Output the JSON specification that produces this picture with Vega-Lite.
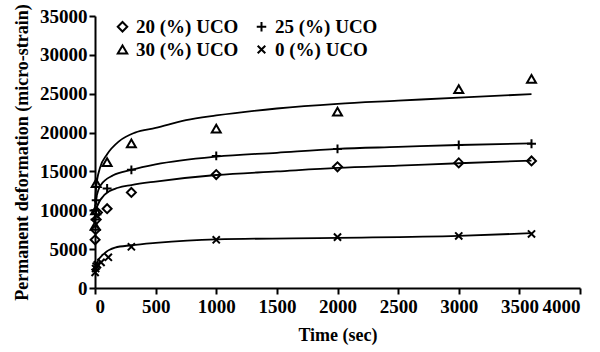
{
  "$schema": "https://vega.github.io/schema/vega-lite/v6.json",
  "width": 485,
  "height": 272,
  "autosize": {"type": "none"},
  "padding": {"left": 95, "top": 16, "right": 20, "bottom": 64},
  "background": "white",
  "datasets": {
    "pts": [
      {"t": 1, "v": 6200, "s": "20 (%) UCO"},
      {"t": 5, "v": 7500, "s": "20 (%) UCO"},
      {"t": 10, "v": 8800, "s": "20 (%) UCO"},
      {"t": 20, "v": 9700, "s": "20 (%) UCO"},
      {"t": 100, "v": 10200, "s": "20 (%) UCO"},
      {"t": 300, "v": 12300, "s": "20 (%) UCO"},
      {"t": 1000, "v": 14600, "s": "20 (%) UCO"},
      {"t": 2000, "v": 15600, "s": "20 (%) UCO"},
      {"t": 3000, "v": 16100, "s": "20 (%) UCO"},
      {"t": 3600, "v": 16350, "s": "20 (%) UCO"},
      {"t": 1, "v": 8800, "s": "25 (%) UCO"},
      {"t": 5, "v": 10000, "s": "25 (%) UCO"},
      {"t": 10, "v": 11300, "s": "25 (%) UCO"},
      {"t": 100, "v": 12800, "s": "25 (%) UCO"},
      {"t": 300, "v": 15200, "s": "25 (%) UCO"},
      {"t": 1000, "v": 17000, "s": "25 (%) UCO"},
      {"t": 2000, "v": 17900, "s": "25 (%) UCO"},
      {"t": 3000, "v": 18400, "s": "25 (%) UCO"},
      {"t": 3600, "v": 18550, "s": "25 (%) UCO"},
      {"t": 1, "v": 8000, "s": "30 (%) UCO"},
      {"t": 5, "v": 10000, "s": "30 (%) UCO"},
      {"t": 10, "v": 13500, "s": "30 (%) UCO"},
      {"t": 100, "v": 16200, "s": "30 (%) UCO"},
      {"t": 300, "v": 18600, "s": "30 (%) UCO"},
      {"t": 1000, "v": 20500, "s": "30 (%) UCO"},
      {"t": 2000, "v": 22700, "s": "30 (%) UCO"},
      {"t": 3000, "v": 25600, "s": "30 (%) UCO"},
      {"t": 3600, "v": 26900, "s": "30 (%) UCO"},
      {"t": 1, "v": 2000, "s": "0 (%) UCO"},
      {"t": 5, "v": 2500, "s": "0 (%) UCO"},
      {"t": 10, "v": 2800, "s": "0 (%) UCO"},
      {"t": 20, "v": 3000, "s": "0 (%) UCO"},
      {"t": 50, "v": 3300, "s": "0 (%) UCO"},
      {"t": 110, "v": 3950, "s": "0 (%) UCO"},
      {"t": 300, "v": 5300, "s": "0 (%) UCO"},
      {"t": 1000, "v": 6200, "s": "0 (%) UCO"},
      {"t": 2000, "v": 6550, "s": "0 (%) UCO"},
      {"t": 3000, "v": 6700, "s": "0 (%) UCO"},
      {"t": 3600, "v": 6950, "s": "0 (%) UCO"}
    ],
    "fit": [
      {"t": 0, "v": 11000, "s": "30"},
      {"t": 10, "v": 13000, "s": "30"},
      {"t": 40, "v": 15400, "s": "30"},
      {"t": 100, "v": 17200, "s": "30"},
      {"t": 200, "v": 18900, "s": "30"},
      {"t": 330, "v": 20000, "s": "30"},
      {"t": 500, "v": 20600, "s": "30"},
      {"t": 750, "v": 21600, "s": "30"},
      {"t": 1000, "v": 22200, "s": "30"},
      {"t": 1500, "v": 23100, "s": "30"},
      {"t": 2000, "v": 23700, "s": "30"},
      {"t": 2500, "v": 24100, "s": "30"},
      {"t": 3000, "v": 24500, "s": "30"},
      {"t": 3600, "v": 24950, "s": "30"},
      {"t": 0, "v": 10500, "s": "25"},
      {"t": 10, "v": 11500, "s": "25"},
      {"t": 50, "v": 13300, "s": "25"},
      {"t": 150, "v": 14500, "s": "25"},
      {"t": 300, "v": 15200, "s": "25"},
      {"t": 500, "v": 15900, "s": "25"},
      {"t": 1000, "v": 16900, "s": "25"},
      {"t": 1500, "v": 17400, "s": "25"},
      {"t": 2000, "v": 17900, "s": "25"},
      {"t": 2500, "v": 18150, "s": "25"},
      {"t": 3000, "v": 18400, "s": "25"},
      {"t": 3600, "v": 18600, "s": "25"},
      {"t": 0, "v": 8500, "s": "20"},
      {"t": 15, "v": 10400, "s": "20"},
      {"t": 80, "v": 12000, "s": "20"},
      {"t": 190, "v": 12900, "s": "20"},
      {"t": 300, "v": 13250, "s": "20"},
      {"t": 500, "v": 13700, "s": "20"},
      {"t": 1000, "v": 14540, "s": "20"},
      {"t": 1500, "v": 15000, "s": "20"},
      {"t": 2000, "v": 15450, "s": "20"},
      {"t": 2500, "v": 15750, "s": "20"},
      {"t": 3000, "v": 16050, "s": "20"},
      {"t": 3600, "v": 16400, "s": "20"},
      {"t": 0, "v": 2000, "s": "0"},
      {"t": 15, "v": 3200, "s": "0"},
      {"t": 80, "v": 4500, "s": "0"},
      {"t": 165, "v": 5200, "s": "0"},
      {"t": 300, "v": 5500, "s": "0"},
      {"t": 500, "v": 5800, "s": "0"},
      {"t": 1000, "v": 6250, "s": "0"},
      {"t": 2000, "v": 6450, "s": "0"},
      {"t": 3000, "v": 6700, "s": "0"},
      {"t": 3600, "v": 7050, "s": "0"}
    ]
  },
  "config": {
    "view": {"stroke": null},
    "axis": {
      "grid": false,
      "domainColor": "black",
      "domainWidth": 2,
      "tickColor": "black",
      "tickWidth": 2,
      "tickSize": 6,
      "labelColor": "black",
      "labelFont": "Liberation Serif",
      "labelFontWeight": "bold",
      "labelFontSize": 19,
      "labelOverlap": false,
      "titleColor": "black",
      "titleFont": "Liberation Serif",
      "titleFontWeight": "bold",
      "titleFontSize": 18
    },
    "legend": {
      "labelFont": "Liberation Serif",
      "labelFontWeight": "bold",
      "labelFontSize": 19,
      "labelColor": "black"
    }
  },
  "encoding": {
    "x": {
      "field": "t", "type": "quantitative",
      "scale": {"domain": [0, 4000], "nice": false},
      "axis": {"values": [0, 500, 1000, 1500, 2000, 2500, 3000, 3500, 4000], "format": "d", "labelPadding": 3, "labelOverlap": false, "title": "Time (sec)", "titlePadding": 10}
    },
    "y": {
      "field": "v", "type": "quantitative",
      "scale": {"domain": [0, 35000], "nice": false},
      "axis": {"values": [0, 5000, 10000, 15000, 20000, 25000, 30000, 35000], "format": "d", "labelPadding": 2, "labelOverlap": false, "title": "Permanent deformation (micro-strain)", "titlePadding": 8}
    }
  },
  "layer": [
    {
      "data": {"name": "fit"},
      "mark": {"type": "line", "color": "black", "strokeWidth": 1.8, "interpolate": "monotone"},
      "encoding": {
        "detail": {"field": "s"}
      }
    },
    {
      "data": {"name": "pts"},
      "mark": {"type": "point", "filled": false, "color": "black", "strokeWidth": 2, "opacity": 1, "size": 80},
      "encoding": {
        "shape": {
          "field": "s", "type": "nominal",
          "scale": {
            "domain": ["20 (%) UCO", "25 (%) UCO", "30 (%) UCO", "0 (%) UCO"],
            "range": ["diamond", "M-1,0H1M0,-1V1", "triangle-up", "M-0.8,-0.8L0.8,0.8M-0.8,0.8L0.8,-0.8"]
          },
          "legend": {
            "title": null,
            "orient": "none",
            "direction": "horizontal",
            "legendX": 18,
            "legendY": 1,
            "columns": 2,
            "columnPadding": 13,
            "rowPadding": 3,
            "padding": 0,
            "symbolSize": 90,
            "symbolStrokeWidth": 2,
            "symbolStrokeColor": "black",
            "symbolFillColor": "transparent",
            "labelOffset": 4
          }
        }
      }
    }
  ]
}
